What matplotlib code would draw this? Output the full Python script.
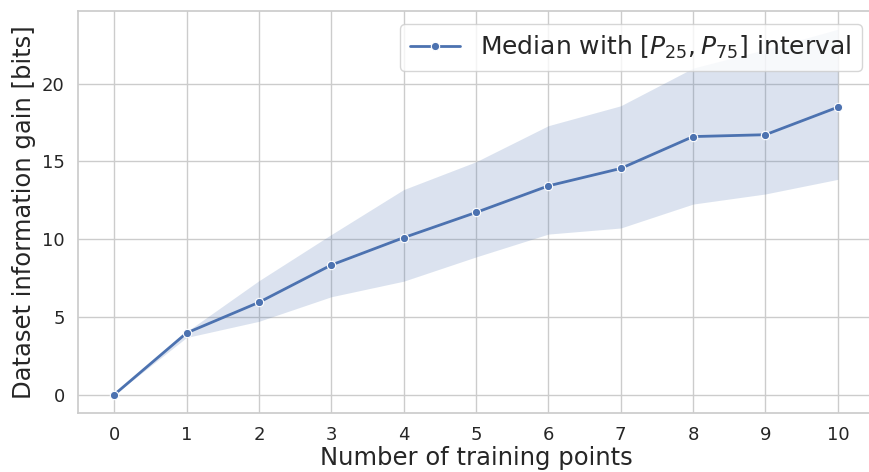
import numpy as np
import matplotlib
matplotlib.use("Agg")
import matplotlib.pyplot as plt
import seaborn as sns

# values
n_points = [0, 1, 2, 3, 4, 5, 6, 7, 8, 9, 10]
median = [0.0, 3.97, 5.94, 8.34, 10.1, 11.72, 13.43, 14.55, 16.6, 16.72, 18.49]
p25 = [0.0, 3.68, 4.72, 6.3, 7.3, 8.86, 10.33, 10.72, 12.26, 12.91, 13.85]
p75 = [0.0, 4.05, 7.33, 10.3, 13.19, 14.98, 17.3, 18.58, 21.0, 22.2, 23.5]

sns.set_theme(style="whitegrid")

fig = plt.figure(figsize=(8.7, 4.72), dpi=100)
ax = fig.add_axes([78 / 870, 59 / 472, 796 / 870, 402 / 472])

color = sns.color_palette("deep")[0]
ax.fill_between(n_points, p25, p75, color=color, alpha=0.2, linewidth=0)
ax.plot(n_points, median, color=color, linewidth=2, marker="o", markersize=6,
        markeredgecolor="white", markeredgewidth=0.8,
        label=r"Median with $[P_{25}, P_{75}]$ interval")

ax.set_xticks(n_points)
ax.tick_params(axis="both", labelsize=13)
ax.set_xlabel("Number of training points", fontsize=17.5, labelpad=1)
ax.set_ylabel("Dataset information gain [bits]", fontsize=17.5)
ax.legend(loc="upper right", fontsize=18)

fig.savefig("out.png", dpi=100)
